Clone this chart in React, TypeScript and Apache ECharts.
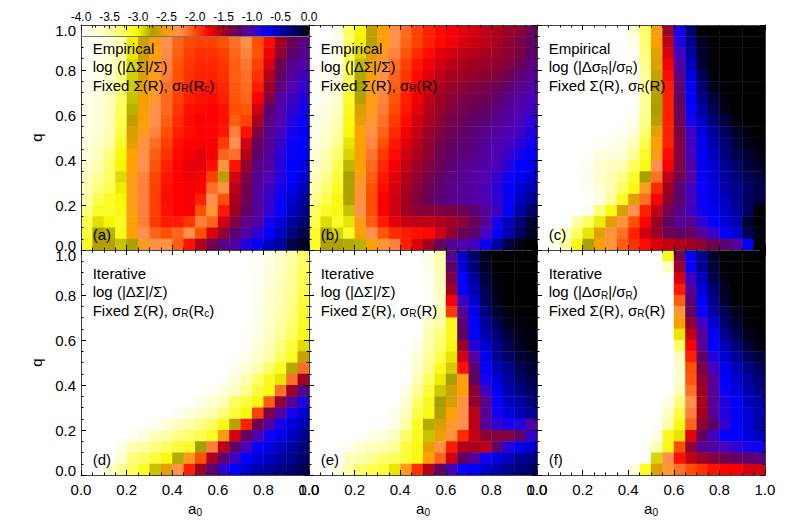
import React, { useEffect, useRef } from "react";
import * as echarts from "echarts";

const colorStops = ["#ffffff","#ffffd8","#ffffa8","#ffff60","#f8f800","#a8a000","#ffa000","#ff9050","#ff5000","#ff0000","#a00020","#600060","#5000b0","#0000ff","#0000b0","#000060","#000000"];
const cellSize = 0.05;

// each panel: rows from q=1 (top) to q=0 (bottom), columns from a0=0 to a0=1
const panelA = [
[-4,-3.92,-3.8,-3.6,-3,-2.68,-2.5,-2.28,-2.1,-2,-1.97,-1.97,-2.02,-2.15,-2.3,-2.02,-1.8,-1.55,-1.32,-1.18],
[-3.98,-3.9,-3.78,-3.55,-2.98,-2.65,-2.48,-2.25,-2.08,-1.98,-1.95,-1.95,-2,-2.12,-2.27,-2,-1.78,-1.5,-1.3,-1.15],
[-3.98,-3.88,-3.75,-3.5,-2.95,-2.65,-2.5,-2.23,-2.05,-1.95,-1.9,-1.9,-1.95,-2.08,-2.2,-2.02,-1.72,-1.45,-1.22,-1.1],
[-3.97,-3.85,-3.72,-3.45,-2.9,-2.62,-2.45,-2.2,-2.02,-1.92,-1.87,-1.87,-1.92,-2.05,-2.15,-1.95,-1.65,-1.3,-1.12,-1.02],
[-3.95,-3.82,-3.7,-3.4,-2.88,-2.6,-2.42,-2.18,-2,-1.9,-1.85,-1.85,-1.9,-2.05,-2.12,-1.9,-1.55,-1.25,-1.07,-0.95],
[-3.92,-3.8,-3.65,-3.33,-2.87,-2.58,-2.4,-2.12,-1.97,-1.87,-1.82,-1.82,-1.87,-2.03,-2.1,-1.83,-1.48,-1.18,-1.02,-0.9],
[-3.88,-3.8,-3.62,-3.28,-2.85,-2.53,-2.35,-2.1,-1.95,-1.85,-1.8,-1.78,-1.85,-2.02,-2.08,-1.75,-1.38,-1.05,-0.95,-0.85],
[-3.87,-3.75,-3.6,-3.25,-2.8,-2.52,-2.28,-2.1,-1.92,-1.8,-1.78,-1.75,-1.8,-2,-2.02,-1.62,-1.22,-1.02,-0.92,-0.8],
[-3.85,-3.75,-3.58,-3.2,-2.68,-2.5,-2.27,-2.05,-1.88,-1.78,-1.75,-1.75,-1.8,-2.05,-1.95,-1.52,-1.15,-1,-0.85,-0.78],
[-3.82,-3.72,-3.55,-3.18,-2.62,-2.42,-2.2,-2,-1.85,-1.78,-1.75,-1.75,-1.82,-2.18,-1.8,-1.38,-1.12,-0.98,-0.82,-0.72],
[-3.8,-3.7,-3.5,-3.1,-2.58,-2.3,-2.12,-1.95,-1.8,-1.75,-1.73,-1.73,-1.93,-2.25,-1.62,-1.27,-1.1,-0.92,-0.78,-0.75],
[-3.75,-3.62,-3.35,-3.02,-2.5,-2.27,-2.05,-1.9,-1.78,-1.72,-1.67,-1.72,-2.08,-2.12,-1.55,-1.22,-1.07,-0.87,-0.78,-0.72],
[-3.7,-3.55,-3.3,-3,-2.5,-2.25,-2.02,-1.85,-1.75,-1.68,-1.68,-1.8,-2.33,-1.8,-1.45,-1.15,-1.05,-0.87,-0.75,-0.68],
[-3.6,-3.45,-3.25,-2.92,-2.45,-2.2,-1.97,-1.82,-1.75,-1.7,-1.72,-1.95,-2.7,-1.65,-1.38,-1.08,-1,-0.85,-0.75,-0.62],
[-3.55,-3.35,-3.2,-2.97,-2.42,-2.18,-1.95,-1.8,-1.75,-1.72,-1.75,-2.12,-2.28,-1.58,-1.32,-1.08,-0.95,-0.82,-0.7,-0.55],
[-3.5,-3.2,-3.1,-3,-2.42,-2.2,-1.95,-1.78,-1.75,-1.72,-1.85,-2.25,-2,-1.52,-1.3,-1.05,-0.92,-0.78,-0.6,-0.45],
[-3.35,-3.1,-3.1,-3.05,-2.45,-2.18,-1.95,-1.8,-1.75,-1.72,-2,-2.35,-1.83,-1.5,-1.25,-1.08,-0.9,-0.75,-0.55,-0.4],
[-3.2,-2.93,-3,-3.1,-2.5,-2.18,-1.93,-1.83,-1.83,-1.92,-2.18,-2.08,-1.62,-1.38,-1.12,-1.05,-0.82,-0.65,-0.45,-0.3],
[-3.15,-2.75,-2.8,-3.05,-2.5,-2.25,-2.08,-2,-2.08,-2.27,-2,-1.65,-1.45,-1.18,-1.05,-0.9,-0.75,-0.55,-0.35,-0.2],
[-3.1,-2.72,-2.7,-2.85,-2.75,-2.4,-2.28,-2.28,-2.05,-1.8,-1.55,-1.33,-1.12,-1.05,-0.85,-0.75,-0.55,-0.45,-0.2,-0.1],
];
const panelB = [
[-4,-4,-3.85,-3.25,-3,-2.68,-2.5,-2.28,-2.1,-1.95,-1.85,-1.78,-1.73,-1.67,-1.62,-1.58,-1.53,-1.48,-1.42,-1.28],
[-4,-4,-3.9,-3.3,-2.98,-2.7,-2.5,-2.27,-2.08,-1.95,-1.85,-1.77,-1.72,-1.65,-1.6,-1.57,-1.52,-1.42,-1.35,-1.25],
[-4,-3.97,-3.85,-3.25,-2.9,-2.6,-2.38,-2.2,-2.02,-1.88,-1.78,-1.68,-1.62,-1.57,-1.55,-1.52,-1.48,-1.42,-1.35,-1.22],
[-4,-3.95,-3.82,-3.25,-2.82,-2.55,-2.32,-2.12,-1.95,-1.82,-1.72,-1.62,-1.57,-1.52,-1.5,-1.47,-1.43,-1.38,-1.28,-1.15],
[-4,-3.92,-3.8,-3.22,-2.78,-2.52,-2.28,-2.08,-1.92,-1.78,-1.66,-1.58,-1.52,-1.48,-1.45,-1.42,-1.38,-1.3,-1.2,-1.1],
[-3.97,-3.88,-3.75,-3.18,-2.75,-2.48,-2.25,-2.05,-1.88,-1.75,-1.62,-1.53,-1.47,-1.42,-1.38,-1.35,-1.3,-1.2,-1.12,-1.05],
[-3.95,-3.85,-3.7,-3.12,-2.72,-2.45,-2.2,-2.02,-1.85,-1.72,-1.58,-1.5,-1.42,-1.36,-1.33,-1.3,-1.22,-1.12,-1.05,-0.98],
[-3.92,-3.8,-3.65,-3.08,-2.62,-2.42,-2.17,-1.98,-1.82,-1.68,-1.55,-1.47,-1.38,-1.32,-1.28,-1.25,-1.15,-1.05,-1.02,-0.95],
[-3.88,-3.75,-3.55,-3.05,-2.57,-2.35,-2.13,-1.93,-1.78,-1.63,-1.52,-1.42,-1.33,-1.28,-1.22,-1.18,-1.1,-1.03,-0.98,-0.88],
[-3.85,-3.7,-3.5,-3,-2.5,-2.28,-2.08,-1.88,-1.72,-1.6,-1.48,-1.37,-1.3,-1.25,-1.18,-1.12,-1.05,-1,-0.95,-0.85],
[-3.8,-3.65,-3.4,-2.95,-2.5,-2.22,-2,-1.82,-1.68,-1.55,-1.45,-1.33,-1.27,-1.2,-1.15,-1.08,-1.02,-0.98,-0.88,-0.8],
[-3.75,-3.55,-3.3,-2.9,-2.5,-2.15,-1.93,-1.78,-1.62,-1.52,-1.42,-1.3,-1.22,-1.17,-1.12,-1.05,-1,-0.92,-0.82,-0.75],
[-3.7,-3.5,-3.2,-2.82,-2.48,-2.1,-1.87,-1.72,-1.6,-1.48,-1.38,-1.28,-1.2,-1.13,-1.08,-1.03,-0.98,-0.87,-0.75,-0.7],
[-3.6,-3.4,-3.15,-2.75,-2.42,-2.05,-1.82,-1.68,-1.55,-1.45,-1.33,-1.25,-1.15,-1.1,-1.05,-1,-0.92,-0.8,-0.72,-0.62],
[-3.5,-3.3,-3.1,-2.72,-2.35,-2,-1.78,-1.65,-1.52,-1.4,-1.3,-1.22,-1.13,-1.08,-1.03,-0.98,-0.88,-0.75,-0.62,-0.5],
[-3.4,-3.2,-3.05,-2.72,-2.3,-2,-1.75,-1.62,-1.5,-1.38,-1.28,-1.18,-1.12,-1.08,-1.03,-1,-0.9,-0.78,-0.55,-0.4],
[-3.25,-3.1,-3.05,-2.85,-2.27,-2,-1.75,-1.62,-1.5,-1.42,-1.4,-1.38,-1.35,-1.3,-1.2,-1.08,-0.95,-0.72,-0.45,-0.25],
[-3.2,-2.92,-3.1,-2.95,-2.42,-2.05,-1.83,-1.68,-1.6,-1.58,-1.58,-1.55,-1.5,-1.42,-1.27,-1.08,-0.82,-0.55,-0.32,-0.12],
[-3.1,-2.78,-2.9,-3.1,-2.5,-2.25,-2.02,-1.88,-1.83,-1.8,-1.77,-1.62,-1.45,-1.28,-1.22,-0.98,-0.72,-0.5,-0.25,-0.1],
[-3.1,-2.72,-2.72,-2.78,-2.8,-2.5,-2.33,-2.2,-1.85,-1.65,-1.5,-1.28,-1.08,-1.02,-0.95,-0.78,-0.45,-0.18,-0.05,0],
];
const panelC = [
[-4,-4,-4,-4,-4,-4,-4,-4,-3.7,-3.28,-2.45,-1.47,-0.8,-0.3,0,0,0,0,0,0],
[-4,-4,-4,-4,-4,-4,-4,-4,-3.85,-3.3,-2.5,-1.58,-0.85,-0.4,-0.08,0,0,0,0,0],
[-4,-4,-4,-4,-4,-4,-4,-4,-3.9,-3.35,-2.58,-1.65,-0.95,-0.45,-0.12,0,0,0,0,0],
[-4,-4,-4,-4,-4,-4,-4,-4,-3.95,-3.4,-2.6,-1.72,-1.05,-0.55,-0.14,0,0,0,0,0],
[-4,-4,-4,-4,-4,-4,-4,-4,-3.95,-3.45,-2.67,-1.78,-1.15,-0.65,-0.22,-0.04,0,0,0,0],
[-4,-4,-4,-4,-4,-4,-4,-4,-3.97,-3.45,-2.7,-1.83,-1.22,-0.72,-0.3,-0.08,0,0,0,0],
[-4,-4,-4,-4,-4,-4,-4,-4,-3.97,-3.45,-2.72,-1.85,-1.25,-0.75,-0.38,-0.15,-0.03,0,0,0],
[-4,-4,-4,-4,-4,-4,-4,-4,-3.95,-3.42,-2.75,-1.85,-1.3,-0.78,-0.45,-0.22,-0.06,0,0,0],
[-4,-4,-4,-4,-4,-4,-4,-3.98,-3.88,-3.38,-2.7,-1.85,-1.32,-0.82,-0.55,-0.32,-0.15,-0.03,0,0],
[-4,-4,-4,-4,-4,-4,-3.97,-3.93,-3.78,-3.3,-2.58,-1.85,-1.35,-0.95,-0.65,-0.42,-0.25,-0.1,-0.02,0],
[-4,-4,-4,-4,-4,-3.95,-3.88,-3.82,-3.6,-3.2,-2.5,-1.85,-1.38,-0.95,-0.7,-0.48,-0.3,-0.15,-0.07,-0.03],
[-4,-4,-4,-4,-3.95,-3.82,-3.78,-3.72,-3.45,-3.1,-2.42,-1.78,-1.38,-0.98,-0.72,-0.55,-0.35,-0.2,-0.12,-0.06],
[-4,-4,-4,-4,-3.9,-3.72,-3.65,-3.55,-3.25,-3.05,-2.25,-1.73,-1.38,-1.03,-0.7,-0.6,-0.4,-0.27,-0.17,-0.1],
[-4,-4,-4,-4,-3.85,-3.68,-3.55,-3.38,-3.1,-2.75,-2.12,-1.58,-1.32,-1.05,-0.76,-0.62,-0.45,-0.32,-0.22,-0.15],
[-4,-4,-4,-4,-3.9,-3.75,-3.55,-3.25,-3.05,-2.4,-1.88,-1.5,-1.2,-0.95,-0.78,-0.65,-0.48,-0.4,-0.27,-0.2],
[-4,-4,-4,-4,-3.97,-3.85,-3.45,-3.1,-2.58,-2.12,-1.75,-1.43,-1.22,-0.98,-0.78,-0.65,-0.55,-0.38,-0.25,-0.17],
[-4,-4,-4,-4,-3.85,-3.35,-3.05,-2.62,-2.25,-1.85,-1.58,-1.33,-1.12,-0.95,-0.8,-0.73,-0.57,-0.43,-0.25,0],
[-4,-4,-4,-3.5,-3.25,-2.97,-2.58,-2.3,-2,-1.75,-1.48,-1.25,-1.08,-1.1,-0.88,-0.75,-0.62,-0.5,-0.12,0],
[-4,-3.9,-3.6,-3.25,-2.95,-2.58,-2.32,-2.12,-1.85,-1.62,-1.48,-1.3,-1.25,-1.27,-1.05,-0.93,-0.75,-0.6,-0.22,-0.06],
[-4,-3.85,-3.5,-3.05,-2.75,-2.48,-2.33,-2.05,-1.9,-1.78,-1.65,-1.6,-1.55,-1.5,-1.42,-1.3,-1.2,-1.05,-0.75,0],
];
const panelD = [
[-4,-4,-4,-4,-4,-4,-4,-4,-4,-4,-4,-4,-4,-4,-4,-3.95,-3.82,-3.68,-3.5,-3.28],
[-4,-4,-4,-4,-4,-4,-4,-4,-4,-4,-4,-4,-4,-4,-4,-3.95,-3.8,-3.65,-3.47,-3.25],
[-4,-4,-4,-4,-4,-4,-4,-4,-4,-4,-4,-4,-4,-4,-4,-3.93,-3.78,-3.62,-3.45,-3.22],
[-4,-4,-4,-4,-4,-4,-4,-4,-4,-4,-4,-4,-4,-4,-4,-3.92,-3.75,-3.6,-3.42,-3.2],
[-4,-4,-4,-4,-4,-4,-4,-4,-4,-4,-4,-4,-4,-4,-4,-3.9,-3.72,-3.58,-3.38,-3.15],
[-4,-4,-4,-4,-4,-4,-4,-4,-4,-4,-4,-4,-4,-4,-4,-3.88,-3.7,-3.55,-3.35,-3.12],
[-4,-4,-4,-4,-4,-4,-4,-4,-4,-4,-4,-4,-4,-4,-3.98,-3.85,-3.68,-3.5,-3.3,-3.1],
[-4,-4,-4,-4,-4,-4,-4,-4,-4,-4,-4,-4,-4,-4,-3.97,-3.82,-3.62,-3.45,-3.25,-3.08],
[-4,-4,-4,-4,-4,-4,-4,-4,-4,-4,-4,-4,-4,-4,-3.92,-3.75,-3.58,-3.35,-3.15,-2.92],
[-4,-4,-4,-4,-4,-4,-4,-4,-4,-4,-4,-4,-4,-3.98,-3.88,-3.7,-3.5,-3.25,-3.1,-2.65],
[-4,-4,-4,-4,-4,-4,-4,-4,-4,-4,-4,-4,-4,-3.88,-3.72,-3.55,-3.3,-3.1,-2.78,-2.12],
[-4,-4,-4,-4,-4,-4,-4,-4,-4,-4,-4,-4,-3.97,-3.75,-3.55,-3.3,-3.08,-2.95,-2.12,-1.5],
[-4,-4,-4,-4,-4,-4,-4,-4,-4,-4,-4,-3.93,-3.8,-3.65,-3.4,-3.15,-3.05,-2.12,-1.48,-1.1],
[-4,-4,-4,-4,-4,-4,-4,-4,-4,-4,-3.85,-3.72,-3.6,-3.25,-3.15,-3.05,-2.05,-1.43,-1.08,-0.85],
[-4,-4,-4,-4,-4,-4,-4,-4,-3.92,-3.78,-3.65,-3.55,-3.35,-3.15,-3.05,-1.95,-1.38,-1.05,-0.82,-0.62],
[-4,-4,-4,-4,-4,-4,-3.95,-3.78,-3.62,-3.52,-3.38,-3.25,-3.05,-2.68,-1.85,-1.3,-1.05,-0.82,-0.65,-0.52],
[-4,-4,-4,-4,-3.95,-3.8,-3.6,-3.5,-3.38,-3.3,-3.2,-3.1,-2.42,-1.65,-1.25,-1,-0.8,-0.68,-0.55,-0.4],
[-4,-4,-4,-3.85,-3.55,-3.5,-3.38,-3.25,-3.15,-3.1,-2.75,-2.18,-1.58,-1.22,-0.98,-0.77,-0.65,-0.55,-0.45,-0.33],
[-4,-4,-4,-3.72,-3.35,-3.25,-3.15,-3.05,-2.78,-2.42,-2,-1.52,-1.2,-0.95,-0.75,-0.65,-0.55,-0.47,-0.38,-0.3],
[-4,-4,-3.75,-3.45,-3.25,-3.1,-2.85,-2.58,-2.3,-1.85,-1.48,-1.2,-0.9,-0.76,-0.6,-0.5,-0.42,-0.37,-0.3,-0.2],
];
const panelE = [
[-4,-4,-4,-4,-4,-4,-4,-4,-4,-4,-3.85,-3.5,-1.1,-0.58,-0.28,-0.07,0,0,0,0],
[-4,-4,-4,-4,-4,-4,-4,-4,-4,-4,-3.88,-3.55,-1.25,-0.62,-0.3,-0.1,0,0,0,0],
[-4,-4,-4,-4,-4,-4,-4,-4,-4,-4,-3.9,-3.6,-1.35,-0.75,-0.42,-0.15,-0.02,0,0,0],
[-4,-4,-4,-4,-4,-4,-4,-4,-4,-4,-3.92,-3.65,-1.5,-0.78,-0.5,-0.2,-0.05,0,0,0],
[-4,-4,-4,-4,-4,-4,-4,-4,-4,-4,-3.93,-3.65,-1.73,-0.95,-0.6,-0.25,-0.08,0,0,0],
[-4,-4,-4,-4,-4,-4,-4,-4,-4,-4,-3.9,-3.55,-1.93,-1.08,-0.68,-0.32,-0.12,-0.03,0,0],
[-4,-4,-4,-4,-4,-4,-4,-4,-4,-4,-3.65,-3.5,-3.05,-1.18,-0.75,-0.42,-0.22,-0.07,-0.03,0],
[-4,-4,-4,-4,-4,-4,-4,-4,-4,-4,-3.55,-3.35,-3.08,-1.25,-0.76,-0.5,-0.3,-0.15,-0.07,-0.03],
[-4,-4,-4,-4,-4,-4,-4,-4,-4,-3.85,-3.5,-3.3,-3.05,-1.47,-0.87,-0.6,-0.38,-0.2,-0.1,-0.03],
[-4,-4,-4,-4,-4,-4,-4,-4,-4,-3.75,-3.45,-3.2,-2.95,-1.62,-1.05,-0.7,-0.42,-0.27,-0.15,-0.08],
[-4,-4,-4,-4,-4,-4,-4,-4,-4,-3.7,-3.38,-3.08,-2.88,-1.8,-1.22,-0.75,-0.52,-0.37,-0.22,-0.15],
[-4,-4,-4,-4,-4,-4,-4,-4,-4,-3.6,-3.25,-2.97,-2.75,-2.45,-1.25,-0.82,-0.62,-0.43,-0.28,-0.2],
[-4,-4,-4,-4,-4,-4,-4,-4,-3.85,-3.45,-3.15,-2.87,-2.65,-2.5,-1.4,-0.95,-0.72,-0.5,-0.36,-0.27],
[-4,-4,-4,-4,-4,-4,-4,-4,-3.72,-3.3,-3.08,-2.75,-2.62,-2.3,-1.45,-1.12,-0.78,-0.55,-0.45,-0.32],
[-4,-4,-4,-4,-4,-4,-4,-3.9,-3.6,-3.2,-3.05,-2.72,-2.5,-2.28,-1.57,-1.08,-0.82,-0.65,-0.52,-0.42],
[-4,-4,-4,-4,-4,-4,-4,-3.85,-3.5,-3.1,-2.78,-2.62,-2.38,-2.25,-1.57,-1.08,-0.9,-0.82,-0.85,-1.05],
[-4,-4,-4,-4,-3.97,-3.88,-3.78,-3.62,-3.3,-3.08,-2.85,-2.55,-2.32,-1.88,-1.6,-1.42,-1.38,-1.38,-1.25,-0.9],
[-4,-4,-4,-3.9,-3.72,-3.62,-3.55,-3.45,-3.15,-3.05,-2.58,-2.3,-1.83,-1.55,-1.52,-1.57,-1.2,-0.85,-0.7,-0.6],
[-4,-4,-4,-3.6,-3.55,-3.42,-3.3,-3.25,-3.15,-3.05,-2.48,-2.08,-1.62,-1.25,-1.08,-0.8,-0.65,-0.55,-0.43,-0.37],
[-4,-4,-3.82,-3.5,-3.3,-3.2,-3.15,-2.95,-2.42,-1.9,-1.55,-1.25,-0.98,-0.78,-0.72,-0.6,-0.5,-0.4,-0.33,-0.25],
];
const panelF = [
[-4,-4,-4,-4,-4,-4,-4,-4,-4,-4,-4,-3.08,-1.35,-0.75,-0.38,-0.12,0,0,0,0],
[-4,-4,-4,-4,-4,-4,-4,-4,-4,-4,-4,-3.62,-1.47,-0.78,-0.42,-0.15,-0.02,0,0,0],
[-4,-4,-4,-4,-4,-4,-4,-4,-4,-4,-4,-4,-1.65,-0.95,-0.55,-0.2,-0.03,0,0,0],
[-4,-4,-4,-4,-4,-4,-4,-4,-4,-4,-4,-4,-1.83,-1.08,-0.62,-0.32,-0.08,0,0,0],
[-4,-4,-4,-4,-4,-4,-4,-4,-4,-4,-4,-4,-2.05,-1.18,-0.72,-0.38,-0.12,-0.02,0,0],
[-4,-4,-4,-4,-4,-4,-4,-4,-4,-4,-4,-4,-2.35,-1.25,-0.77,-0.45,-0.2,-0.07,0,0],
[-4,-4,-4,-4,-4,-4,-4,-4,-4,-4,-4,-4,-2.5,-1.43,-0.95,-0.62,-0.28,-0.12,-0.03,0],
[-4,-4,-4,-4,-4,-4,-4,-4,-4,-4,-4,-4,-2.95,-1.6,-1.08,-0.72,-0.38,-0.22,-0.08,-0.02],
[-4,-4,-4,-4,-4,-4,-4,-4,-4,-4,-4,-4,-3.28,-1.75,-1.08,-0.75,-0.5,-0.32,-0.15,-0.05],
[-4,-4,-4,-4,-4,-4,-4,-4,-4,-4,-4,-4,-3.62,-1.85,-1.25,-0.85,-0.62,-0.42,-0.25,-0.15],
[-4,-4,-4,-4,-4,-4,-4,-4,-4,-4,-4,-4,-3.7,-2,-1.35,-0.97,-0.7,-0.52,-0.37,-0.25],
[-4,-4,-4,-4,-4,-4,-4,-4,-4,-4,-4,-4,-3.72,-2.03,-1.42,-1.08,-0.75,-0.6,-0.43,-0.33],
[-4,-4,-4,-4,-4,-4,-4,-4,-4,-4,-4,-4,-3.6,-2.12,-1.48,-1.08,-0.78,-0.65,-0.5,-0.38],
[-4,-4,-4,-4,-4,-4,-4,-4,-4,-4,-4,-3.85,-3.35,-2.25,-1.53,-1.08,-0.85,-0.72,-0.55,-0.45],
[-4,-4,-4,-4,-4,-4,-4,-4,-4,-4,-4,-3.62,-3.18,-2.18,-1.5,-1.08,-0.85,-0.72,-0.6,-0.5],
[-4,-4,-4,-4,-4,-4,-4,-4,-4,-4,-3.97,-3.5,-3.05,-2.08,-1.42,-1.22,-0.9,-0.75,-0.62,-0.45],
[-4,-4,-4,-4,-4,-4,-4,-4,-4,-4,-3.85,-3.08,-2.95,-1.68,-1.25,-0.95,-0.75,-0.72,-0.65,-0.55],
[-4,-4,-4,-4,-4,-4,-4,-4,-4,-3.95,-3.55,-3.05,-2,-1.43,-1.08,-1.05,-0.97,-0.9,-0.83,-0.8],
[-4,-4,-4,-4,-4,-4,-4,-4,-4,-3.95,-2.9,-2.25,-1.8,-1.58,-1.48,-1.37,-1.3,-1.25,-1.2,-1.15],
[-4,-4,-4,-4,-4,-4,-4,-4,-3.8,-3.1,-2.6,-2.35,-2.12,-2,-1.9,-1.8,-1.75,-1.73,-1.65,-1.62],
];

const panelValues = [panelA, panelB, panelC, panelD, panelE, panelF];
const panelTitles = [
  ["Empirical", "log (|\u0394\u03A3|/\u03A3)", "Fixed \u03A3(R), \u03C3{s|R}(R{s|c})"],
  ["Empirical", "log (|\u0394\u03A3|/\u03A3)", "Fixed \u03A3(R), \u03C3{s|R}(R)"],
  ["Empirical", "log (|\u0394\u03C3{s|R}|/\u03C3{s|R})", "Fixed \u03A3(R), \u03C3{s|R}(R)"],
  ["Iterative", "log (|\u0394\u03A3|/\u03A3)", "Fixed \u03A3(R), \u03C3{s|R}(R{s|c})"],
  ["Iterative", "log (|\u0394\u03A3|/\u03A3)", "Fixed \u03A3(R), \u03C3{s|R}(R)"],
  ["Iterative", "log (|\u0394\u03C3{s|R}|/\u03C3{s|R})", "Fixed \u03A3(R), \u03C3{s|R}(R)"],
];
const panelTags = ["(a)", "(b)", "(c)", "(d)", "(e)", "(f)"];

const FONT = "Liberation Sans";
const LEFTS = [81, 309, 537, 81, 309, 537];
const TOPS = [25, 25, 25, 250, 250, 250];
const W = 228;
const H = 225;

function App() {
  const ref = useRef<HTMLDivElement>(null);
  useEffect(() => {
    const chart = echarts.init(ref.current!, undefined, { renderer: "svg" });
    const grids: any[] = [];
    const xAxes: any[] = [];
    const yAxes: any[] = [];
    const series: any[] = [];
    const graphics: any[] = [];
    const subRich = { s: { fontSize: 10, fontFamily: FONT, fill: "#000", color: "#000", padding: [7, 0, 0, 0] } };
    const tick = { show: true, inside: true, length: 5, lineStyle: { color: "#000", width: 1 } };
    const minor = { show: true, splitNumber: 4, length: 2.5, lineStyle: { color: "#000", width: 1 } };
    const line = { show: true, onZero: false, lineStyle: { color: "#444", width: 1 } };
    panelValues.forEach((rows, i) => {
      grids.push({ left: LEFTS[i], top: TOPS[i], width: W, height: H });
      const bottomRow = i >= 3;
      const leftCol = i === 0 || i === 3;
      const base = {
        gridIndex: i, type: "value", min: 0, max: 1, interval: 0.2, z: 5,
        splitLine: { show: false }, minorSplitLine: { show: false },
        axisTick: tick, minorTick: minor, axisLine: line,
      };
      const labelStyle = { color: "#000", fontSize: 15, fontFamily: FONT, formatter: (v: number) => v.toFixed(1) };
      xAxes.push({
        ...base, position: "bottom",
        axisLabel: { show: bottomRow, margin: 7, showMinLabel: true, showMaxLabel: true, hideOverlap: false, ...labelStyle },
        name: bottomRow ? "a{s|0}" : "", nameLocation: "middle", nameGap: 25,
        nameTextStyle: { color: "#000", fontSize: 15, fontFamily: FONT, rich: subRich },
      });
      xAxes.push({ ...base, position: "top", axisLabel: { show: false } });
      yAxes.push({
        ...base, position: "left",
        axisLabel: {
          show: leftCol, margin: 5, showMinLabel: true, showMaxLabel: true, lineHeight: 10,
          verticalAlignMinLabel: "bottom", verticalAlignMaxLabel: "top", ...labelStyle,
        },
        name: leftCol ? "q" : "", nameLocation: "middle", nameGap: 37, nameRotate: 90,
        nameTextStyle: { color: "#000", fontSize: 15, fontFamily: FONT },
      });
      yAxes.push({ ...base, position: "right", axisLabel: { show: false } });
      const data: number[][] = [];
      rows.forEach((row, r) => row.forEach((v, c) => {
        data.push([c * cellSize, (rows.length - 1 - r) * cellSize, v]);
      }));
      series.push({
        type: "custom", xAxisIndex: 2 * i, yAxisIndex: 2 * i, z: 2, silent: true,
        encode: { x: 0, y: 1 }, data, clip: true,
        renderItem: (_: any, api: any) => {
          const a = api.coord([api.value(0), api.value(1) + cellSize]);
          const b = api.coord([api.value(0) + cellSize, api.value(1)]);
          return {
            type: "rect",
            shape: { x: a[0], y: a[1], width: b[0] - a[0] + 0.4, height: b[1] - a[1] + 0.4 },
            style: { fill: api.visual("color") },
          };
        },
      });
      panelTitles[i].forEach((t, k) => {
        graphics.push({
          type: "text", x: LEFTS[i] + 11.7, y: TOPS[i] + 23 + k * 18.5, z: 20,
          style: {
            text: t, fill: "#000", fontSize: 15, fontFamily: FONT,
            verticalAlign: "middle", rich: subRich,
          },
        });
      });
      graphics.push({
        type: "text", x: LEFTS[i] + 11.7, y: TOPS[i] + 209.5, z: 20,
        style: { text: panelTags[i], fill: "#000", fontSize: 15, fontFamily: FONT, verticalAlign: "middle" },
      });
    });
    // colour bar axis
    grids.push({ left: 81, top: 25.5, width: W, height: 11 });
    const barBase = {
      gridIndex: 6, type: "value", min: -4, max: 0, interval: 0.5, z: 6,
      splitLine: { show: false }, minorSplitLine: { show: false },
    };
    xAxes.push({
      ...barBase, position: "top",
      axisLine: { show: true, onZero: false, lineStyle: { color: "#444" } },
      axisTick: { show: true, inside: true, length: 3, lineStyle: { color: "#000" } },
      minorTick: { show: true, splitNumber: 2, length: 2, lineStyle: { color: "#000" } },
      axisLabel: {
        show: true, margin: 3, color: "#000", fontSize: 12, fontFamily: FONT,
        showMinLabel: true, showMaxLabel: true, hideOverlap: false,
        formatter: (v: number) => v.toFixed(1),
      },
    });
    xAxes.push({
      ...barBase, position: "bottom", axisLabel: { show: false },
      axisLine: { show: true, onZero: false, lineStyle: { color: "#777" } },
      axisTick: { show: false },
    });
    yAxes.push({ gridIndex: 6, type: "value", min: 0, max: 1, show: false });

    chart.setOption({
      animation: false,
      backgroundColor: "#fff",
      textStyle: { fontFamily: FONT },
      grid: grids,
      xAxis: xAxes,
      yAxis: yAxes,
      visualMap: {
        type: "continuous", show: true, min: -4, max: 0, dimension: 2,
        seriesIndex: [0, 1, 2, 3, 4, 5], calculable: false, orient: "horizontal",
        left: 81, top: 25.5, itemWidth: 11, itemHeight: W, padding: 0,
        showLabel: false, text: null, hoverLink: false, realtime: false,
        inRange: { color: colorStops }, z: 4,
      },
      series,
      graphic: { elements: graphics },
    });
    return () => chart.dispose();
  }, []);
  return <div ref={ref} style={{ position: "absolute", left: 0, top: 0, width: 789, height: 526 }} />;
}

export default App;
